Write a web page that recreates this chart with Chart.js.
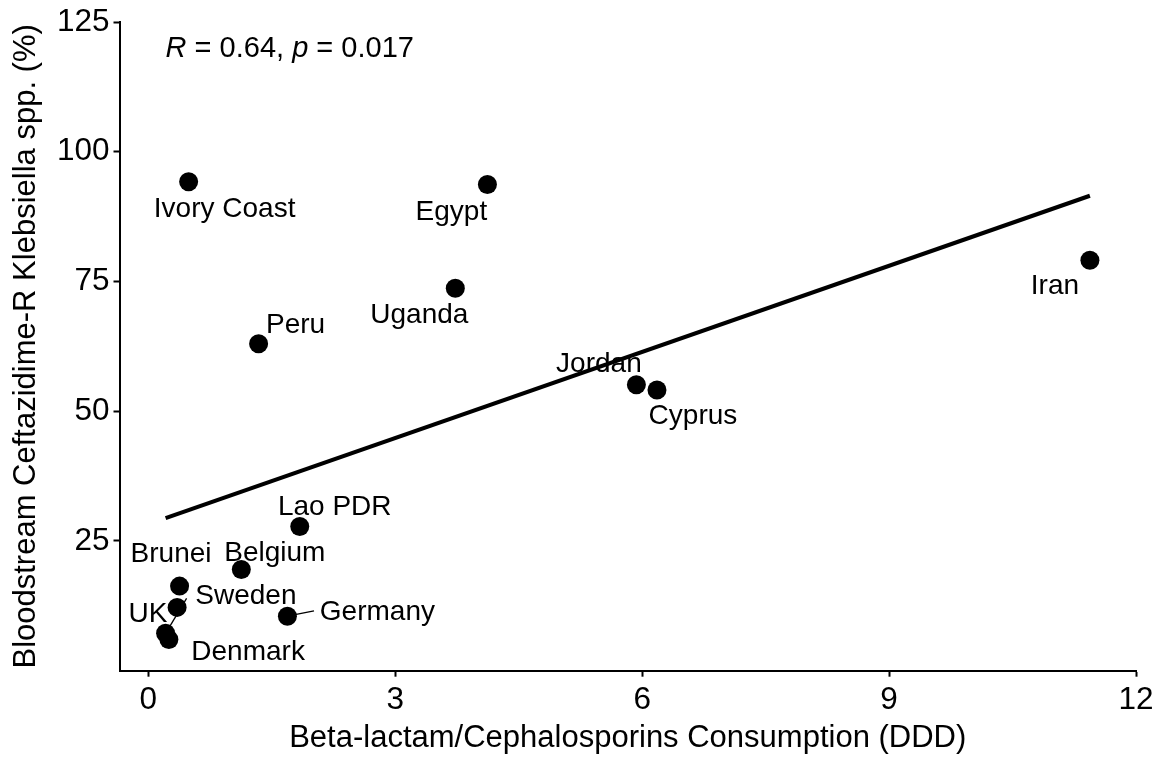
<!DOCTYPE html>
<html>
<head>
<meta charset="utf-8">
<script src="https://cdn.jsdelivr.net/npm/chart.js@4.4.1/dist/chart.umd.min.js"></script>
<style>
  html, body { margin: 0; padding: 0; background: #fff; }
  #wrap { width: 1170px; height: 757px; }
</style>
</head>
<body>
<div id="wrap"><canvas id="c" width="1170" height="757"></canvas></div>
<script>
// Country-level values
const countries      = ['Ivory Coast', 'Egypt', 'Uganda', 'Peru', 'Jordan', 'Cyprus', 'Iran',
                        'Lao PDR', 'Belgium', 'Brunei', 'UK', 'Sweden', 'Denmark', 'Germany'];
const consumptionDDD = [0.49, 4.12, 3.73, 1.34, 5.93, 6.18, 11.44, 1.84, 1.13, 0.38, 0.35, 0.21, 0.25, 1.69];
const resistancePct  = [94.2, 93.7, 73.7, 63.0, 55.1, 54.1, 79.1, 27.8, 19.5, 16.3, 12.2, 7.2, 6.0, 10.5];

// Linear fit line endpoints
const fitLineX = [0.21, 11.44];
const fitLineY = [29.4, 91.5];

// Axis ticks
const xTicks = [0, 3, 6, 9, 12];
const yTicks = [25, 50, 75, 100, 125];

// Correlation summary
const corrR = '0.64';
const corrP = '0.017';
const corrAt = { x: 0.21, y: 118.2 };

const FONT = 'Liberation Sans, Arial, sans-serif';

// Label placement relative to each point (px): [dx to text centre, dy to baseline]
const labelOffsets = {
  'Ivory Coast': [36, 35],
  'Egypt':       [-36, 36],
  'Uganda':      [-36, 35],
  'Peru':        [37, -11],
  'Jordan':      [-37.5, -13],
  'Cyprus':      [36, 34],
  'Iran':        [-35, 34],
  'Lao PDR':     [35, -11],
  'Belgium':     [33.5, -9],
  'Brunei':      [-8.5, -24],
  'UK':          [-29.2, 14.4],
  'Sweden':      [80.3, -29.3],
  'Denmark':     [79.2, 20.7],
  'Germany':     [90, 3.3]
};
// Leader segments from point to label edge (px)
const leaders = {
  'Sweden':  [21, -35],
  'Germany': [26.6, -5.3]
};

const pointLabels = {
  id: 'pointLabels',
  beforeDatasetsDraw(chart) {
    const { ctx, scales: { x, y } } = chart;
    ctx.save();
    ctx.strokeStyle = '#000';
    ctx.lineWidth = 1.3;
    countries.forEach((name, i) => {
      const l = leaders[name];
      if (!l) return;
      const px = x.getPixelForValue(consumptionDDD[i]);
      const py = y.getPixelForValue(resistancePct[i]);
      ctx.beginPath();
      ctx.moveTo(px, py);
      ctx.lineTo(px + l[0], py + l[1]);
      ctx.stroke();
    });
    ctx.restore();
  },
  afterDatasetsDraw(chart) {
    const { ctx, scales: { x, y } } = chart;
    ctx.save();
    ctx.fillStyle = '#000';
    ctx.font = '28px ' + FONT;
    ctx.textAlign = 'center';
    ctx.textBaseline = 'alphabetic';
    countries.forEach((name, i) => {
      const o = labelOffsets[name];
      const px = x.getPixelForValue(consumptionDDD[i]);
      const py = y.getPixelForValue(resistancePct[i]);
      ctx.fillText(name, px + o[0], py + o[1]);
    });

    // correlation text with italic R and p
    const parts = [
      ['R', 'italic'], [' = ' + corrR + ', ', 'normal'],
      ['p', 'italic'], [' = ' + corrP, 'normal']
    ];
    let cx = x.getPixelForValue(corrAt.x);
    const cy = y.getPixelForValue(corrAt.y);
    ctx.textAlign = 'left';
    parts.forEach(([t, st]) => {
      ctx.font = st + ' 29px ' + FONT;
      ctx.fillText(t, cx, cy);
      cx += ctx.measureText(t).width;
    });
    ctx.restore();
  }
};

const tickFont = { family: FONT, size: 31.5, lineHeight: 1 };
const titleFont = { family: FONT, size: 31, lineHeight: 1 };

new Chart(document.getElementById('c'), {
  type: 'scatter',
  data: {
    datasets: [
      {
        type: 'line',
        data: fitLineX.map((v, i) => ({ x: v, y: fitLineY[i] })),
        borderColor: '#000',
        borderWidth: 4.2,
        pointRadius: 0,
        fill: false,
        order: 2
      },
      {
        data: consumptionDDD.map((v, i) => ({ x: v, y: resistancePct[i] })),
        backgroundColor: '#000',
        borderWidth: 0,
        pointRadius: 9.5,
        pointHoverRadius: 9.5,
        order: 1
      }
    ]
  },
  options: {
    responsive: false,
    animation: false,
    devicePixelRatio: 1,
    layout: { padding: { top: 22, right: 34, left: 0, bottom: 0 } },
    plugins: { legend: { display: false }, tooltip: { enabled: false } },
    scales: {
      x: {
        type: 'linear',
        min: -0.35,
        max: 12,
        afterBuildTicks: s => { s.ticks = xTicks.map(v => ({ value: v })); },
        afterFit: s => { s.height = 86.3; },
        grid: { display: true, drawOnChartArea: false, drawTicks: true, tickLength: 6, tickWidth: 2, tickColor: '#000' },
        border: { display: true, color: '#000', width: 2 },
        ticks: { color: '#000', font: tickFont, padding: 8, maxRotation: 0, autoSkip: false },
        title: {
          display: true,
          text: 'Beta-lactam/Cephalosporins Consumption (DDD)',
          color: '#000',
          font: titleFont,
          padding: { top: 0, bottom: 3 }
        }
      },
      y: {
        type: 'linear',
        min: 0,
        max: 125,
        afterBuildTicks: s => { s.ticks = yTicks.map(v => ({ value: v })); },
        afterFit: s => { s.width = 119.5; },
        grid: { display: true, drawOnChartArea: false, drawTicks: true, tickLength: 6, tickWidth: 2, tickColor: '#000' },
        border: { display: true, color: '#000', width: 2 },
        ticks: { color: '#000', font: tickFont, padding: 4 },
        title: {
          display: true,
          text: 'Bloodstream Ceftazidime-R Klebsiella spp. (%)',
          color: '#000',
          font: titleFont,
          padding: { top: 11, bottom: 0 }
        }
      }
    }
  },
  plugins: [pointLabels]
});
</script>
</body>
</html>
